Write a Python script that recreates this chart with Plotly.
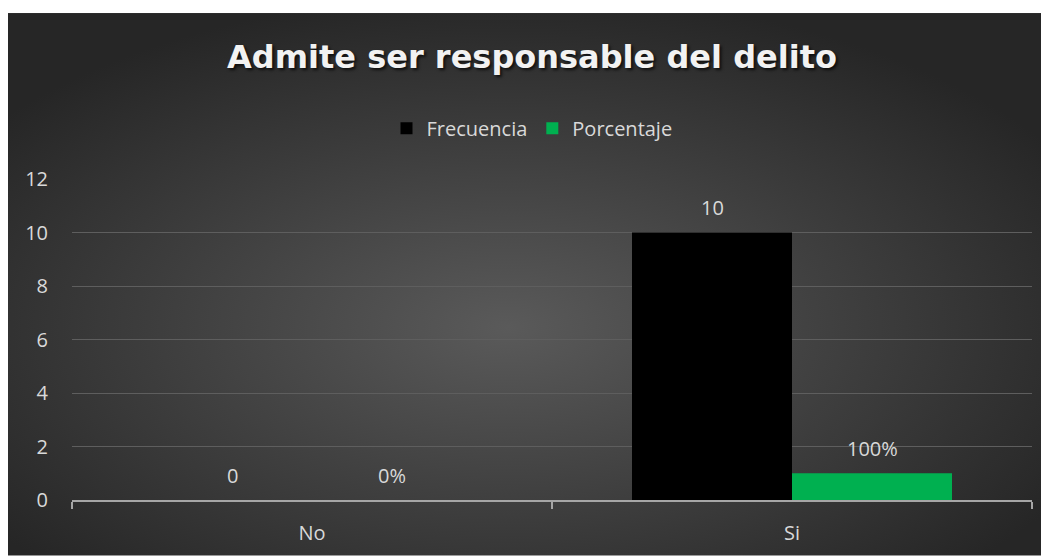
import base64
import plotly.graph_objects as go

categories = ["No", "Si"]
frecuencia = [0, 10]
porcentaje = [0, 1]
frecuencia_labels = ["0", "10"]
porcentaje_labels = ["0%", "100%"]
y_ticks = [0, 2, 4, 6, 8, 10, 12]

# figure geometry (page coords minus the 8px body margin)
W, H = 1041, 550
L, R, T, B = 64, 1024, 171, 494
pw, ph = R - L, B - T

svg = (
    '<svg xmlns="http://www.w3.org/2000/svg" width="1041" height="546" viewBox="0 0 1041 546" preserveAspectRatio="none">'
    '<defs><radialGradient id="g" cx="48%" cy="58%" r="62%" gradientUnits="objectBoundingBox">'
    '<stop offset="0" stop-color="#5a5a5a"/><stop offset="1" stop-color="#262626"/>'
    '</radialGradient></defs><rect x="0" y="0" width="1041" height="546" fill="url(#g)"/></svg>'
)
src = "data:image/svg+xml;base64," + base64.b64encode(svg.encode()).decode()

txt = "#D9D9D9"
font_family = "Open Sans, Noto Sans, sans-serif"
FS = 20

fig = go.Figure()
fig.add_trace(go.Bar(
    name="Frecuencia", x=categories, y=frecuencia,
    marker=dict(color="#000000", line=dict(width=0)),
))
fig.add_trace(go.Bar(
    name="Porcentaje", x=categories, y=porcentaje,
    marker=dict(color="#00B050", line=dict(width=0)),
))

bar_px = pw / len(categories) * (1 - 1/3) / 2
annotations = []
for vals, labels, sign in ((frecuencia, frecuencia_labels, -1), (porcentaje, porcentaje_labels, 1)):
    for c, v, lab in zip(categories, vals, labels):
        annotations.append(dict(
            x=c, y=v, xref="x", yref="y", text=lab, showarrow=False,
            xshift=sign * bar_px / 2, yshift=25, yanchor="middle", xanchor="center",
            font=dict(size=FS, color=txt, family=font_family),
        ))

fig.update_layout(
    width=W, height=H,
    margin=dict(l=L, r=W - R, t=T, b=H - B, pad=0),
    paper_bgcolor="white", plot_bgcolor="rgba(0,0,0,0)",
    barmode="group", bargap=1/3, bargroupgap=0,
    font=dict(family=font_family, color=txt, size=FS),
    title=dict(
        text="Admite ser responsable del delito",
        x=524 / W, xanchor="center", y=1 - 49 / H, yanchor="middle",
        xref="container", yref="container",
        font=dict(size=32, color="#F2F2F2", family="DejaVu Sans, sans-serif", weight="bold",
                  shadow="2px 2px 3px rgba(0,0,0,0.7)"),
    ),
    legend=dict(
        orientation="h", x=(524 - L) / pw, xanchor="center",
        y=(B - 120) / ph, yanchor="middle",
        font=dict(size=FS, color=txt), bgcolor="rgba(0,0,0,0)",
        traceorder="normal",
    ),
    annotations=annotations,
    images=[dict(
        source=src, xref="paper", yref="paper",
        x=(0 - L) / pw, y=(B - 4) / ph, sizex=W / pw, sizey=546 / ph,
        xanchor="left", yanchor="top", sizing="stretch", layer="below",
    )],
    showlegend=True,
)
fig.update_yaxes(
    range=[0, 12], tickvals=y_ticks, showgrid=True, gridcolor="#5E5E5E", gridwidth=1,
    zeroline=False, showline=False, ticks="", ticklabelstandoff=23,
    tickfont=dict(size=FS, color=txt),
)
fig.update_xaxes(
    showline=True, linecolor="#A6A6A6", linewidth=2, ticks="outside",
    tickson="boundaries", ticklen=7, tickcolor="#A6A6A6", tickwidth=2,
    ticklabelstandoff=14, tickfont=dict(size=FS, color=txt),
)

fig.write_html("out.html")
